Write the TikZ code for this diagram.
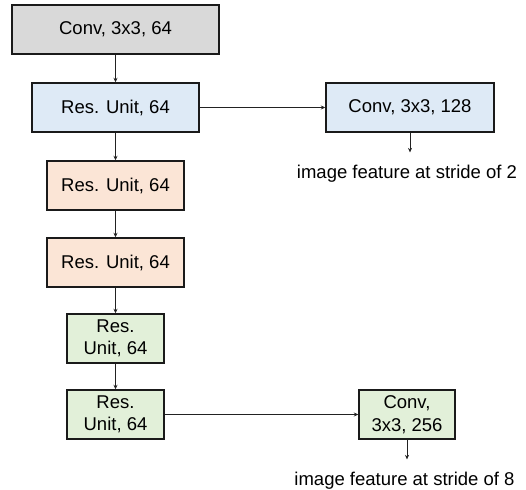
\documentclass[tikz,border=0pt]{standalone}
\usepackage{fontspec}
\setmainfont{Liberation Sans}
\usetikzlibrary{arrows.meta}
\definecolor{fgray}{HTML}{D9D9D9}
\definecolor{fblue}{HTML}{DEEAF6}
\definecolor{forange}{HTML}{FBE5D6}
\definecolor{fgreen}{HTML}{E2F0D9}
\definecolor{edge}{HTML}{1A1A1A}
\definecolor{wire}{HTML}{222222}
\begin{document}
\begin{tikzpicture}[x=1pt,y=-1pt,
  blk/.style={draw=edge, line width=1.4pt, minimum height=49pt, inner sep=0pt,
    align=center, font=\fontsize{18.5}{22.5}\selectfont},
  lbl/.style={font=\fontsize{18.5}{22}\selectfont, anchor=base, inner xsep=0pt, inner ysep=12pt},
  arr/.style={draw=wire, line width=1pt, -{Stealth[length=4.5pt,width=4pt]}}]
\useasboundingbox (0,0) rectangle (526,489);
\node[blk, fill=fgray, minimum width=207pt] (c1) at (115.5,29.5) {Conv, 3x3, 64};
\node[blk, fill=fblue, minimum width=167pt] (r1) at (115.5,107.5) {Res. Unit, 64};
\node[blk, fill=fblue, minimum width=168pt] (c2) at (410,107.5) {Conv, 3x3, 128};
\node[blk, fill=forange, minimum width=137pt] (o1) at (115.5,185.5) {Res. Unit, 64};
\node[blk, fill=forange, minimum width=137pt] (o2) at (115.5,262.5) {Res. Unit, 64};
\node[blk, fill=fgreen, minimum width=97pt] (g1) at (115.5,338.5) {Res.\\Unit, 64};
\node[blk, fill=fgreen, minimum width=97pt] (g2) at (115.5,414.5) {Res.\\Unit, 64};
\node[blk, fill=fgreen, minimum width=96pt] (c3) at (407,414.5) {Conv,\\3x3, 256};
\node[lbl] (f2) at (407,178) {image feature at stride of 2};
\node[lbl] (f8) at (404.5,485) {image feature at stride of 8};
\draw[arr] (c1) -- (r1);
\draw[arr] (r1) -- (o1);
\draw[arr] (o1) -- (o2);
\draw[arr] (o2) -- (g1);
\draw[arr] (g1) -- (g2);
\draw[arr] (r1) -- (c2);
\draw[arr] (g2) -- (c3);
\draw[arr] (c2.south) -- (c2.south |- f2.north);
\draw[arr] (c3.south) -- (c3.south |- f8.north);
\end{tikzpicture}
\end{document}
